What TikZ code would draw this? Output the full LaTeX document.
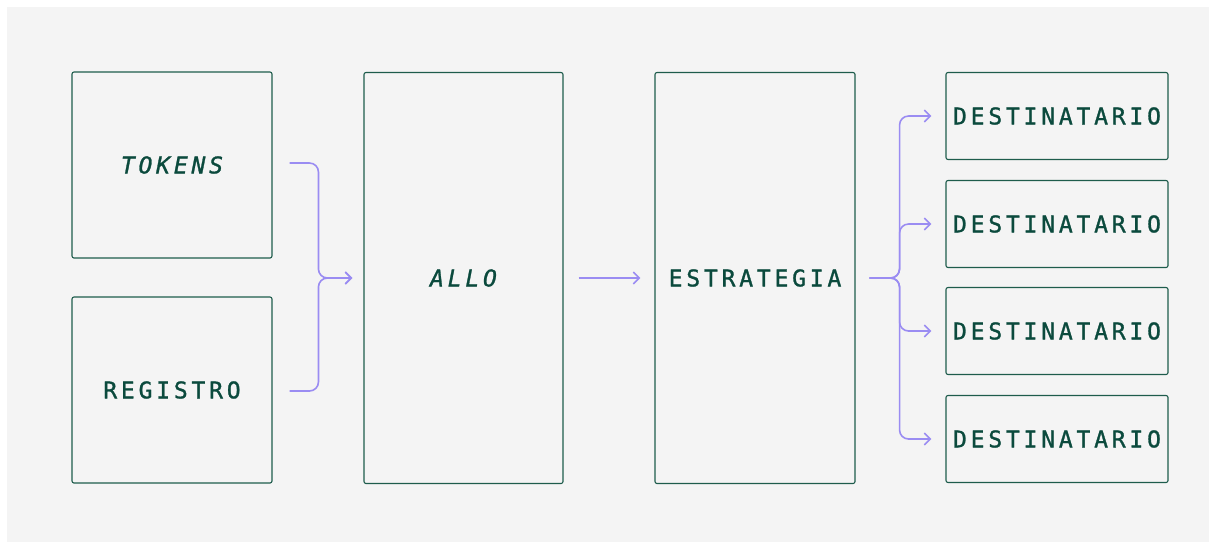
\documentclass[tikz,border=0pt]{standalone}
\usepackage{fontspec}
\usetikzlibrary{arrows.meta, calc}
\newfontfamily\boxfont{DejaVu Sans Mono}[LetterSpace=16.5, FakeBold=1.2]
\definecolor{PageGray}{HTML}{F4F4F4}
\definecolor{BoxLine}{HTML}{1E5C4C}
\definecolor{BoxText}{HTML}{0B4A3D}
\definecolor{FlowLine}{HTML}{9A8CF2}
\tikzset{
    block/.style={draw=BoxLine, line width=1.1pt, rounded corners=2pt, fill=PageGray,
        text=BoxText, font=\boxfont\fontsize{23}{25}\selectfont, inner sep=0pt},
    flow/.style={draw=FlowLine, line width=1.6pt, rounded corners=9pt},
    tip/.style={-{Straight Barb[length=6pt, width=12pt, line width=1.6pt]}}
}

\begin{document}
\begin{tikzpicture}[x=1pt, y=-1pt]
            \useasboundingbox (0,0) rectangle (1209,542);
            \fill[PageGray] (7,7) rectangle (1209,542);
            % inputs
            \node[block, minimum width=200pt, minimum height=186pt] (tokens) at (172,165) {\itshape TOKENS};
            \node[block, minimum width=200pt, minimum height=186pt] (registro) at (172,390) {REGISTRO};
            \node[block, minimum width=199pt, minimum height=411pt] (allo) at (463.5,278) {\itshape ALLO};
            \node[block, minimum width=200pt, minimum height=411pt] (estrategia) at (755,278) {ESTRATEGIA};
            \foreach \y/\i in {116/0, 224/1, 331/2, 439/3}
            {
                \begin{scope}
                    \node[block, minimum width=222pt, minimum height=87pt] (dest-\i) at (1057,\y) {DESTINATARIO};
                    %\node[block] (dest-\i) at (1057,\y) {$d_{\i}$};
                \end{scope}
            }
            % brace into allo
            \coordinate (tk-out) at ($(tokens.east)+(17,-2)$);
            \coordinate (rg-out) at ($(registro.east)+(17,1)$);
            \coordinate (in-join) at ($(allo.west)+(-45,0)$);
            \coordinate (in-end) at ($(allo.west)+(-11,0)$);
            \draw[flow, tip] (tk-out) -| (in-join) -- (in-end);
            \draw[flow, tip] (rg-out) -| (in-join) -- (in-end);
            % allo to estrategia
            \draw[flow, tip] ($(allo.east)+(15,0)$) -- ($(estrategia.west)+(-14,0)$);
            % brace out of estrategia
            \coordinate (st-out) at ($(estrategia.east)+(14,0)$);
            \coordinate (out-join) at ($(estrategia.east)+(44,0)$);
            \foreach \i in {0,...,3}
            {
                \draw[flow, tip] (st-out) -- (out-join) |- ($(dest-\i.west)+(-14,0)$);
            }
\end{tikzpicture}
\end{document}
